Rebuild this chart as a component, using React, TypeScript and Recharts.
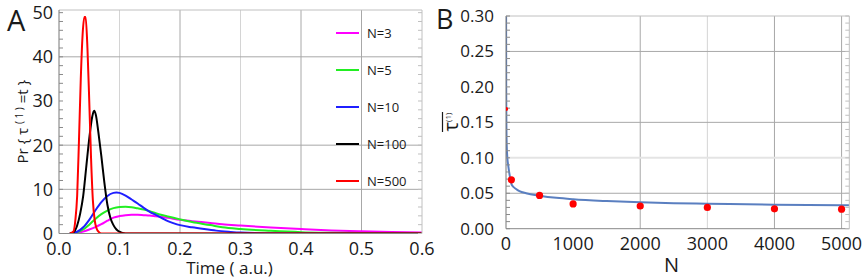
import React from "react";
import {
  ComposedChart,
  Label,
  Legend,
  Line,
  LineChart,
  ReferenceLine,
  Scatter,
  XAxis,
  YAxis,
} from "recharts";

// ---- panel A : Pr{tau(1)=t} vs time, one curve per N ----
const seriesNames = ["N=3", "N=5", "N=10", "N=100", "N=500"];

// [time, density]
const densN3: [number, number][] = [
  [0.018, 0], [0.03, 0.15], [0.04, 0.45], [0.05, 0.9], [0.06, 1.45], [0.07, 2.1],
  [0.08, 2.9], [0.09, 3.6], [0.1, 3.95], [0.11, 4.15], [0.12, 4.25], [0.13, 4.25],
  [0.14, 4.15], [0.15, 4.05], [0.16, 3.9], [0.17, 3.75], [0.18, 3.55], [0.2, 3.1],
  [0.22, 2.8], [0.25, 2.4], [0.27, 2.1], [0.3, 1.8], [0.35, 1.35], [0.4, 1.0],
  [0.45, 0.7], [0.5, 0.5], [0.55, 0.32], [0.6, 0.2],
];
const densN5: [number, number][] = [
  [0.018, 0], [0.03, 0.3], [0.04, 0.9], [0.05, 2.0], [0.06, 3.3], [0.07, 4.4],
  [0.08, 5.2], [0.09, 5.75], [0.1, 6.0], [0.11, 6.06], [0.12, 5.95], [0.13, 5.7],
  [0.14, 5.45], [0.15, 5.05], [0.16, 4.6], [0.17, 4.2], [0.18, 3.85], [0.2, 3.2],
  [0.22, 2.6], [0.25, 1.9], [0.27, 1.4], [0.3, 1.0], [0.35, 0.6], [0.4, 0.3],
  [0.45, 0.17], [0.5, 0.1], [0.6, 0.03],
];
const densN10: [number, number][] = [
  [0.018, 0], [0.03, 0.4], [0.04, 1.4], [0.05, 3.1], [0.06, 5.2], [0.07, 7.1],
  [0.08, 8.5], [0.09, 9.2], [0.095, 9.3], [0.1, 9.2], [0.11, 8.6], [0.12, 7.7],
  [0.13, 6.8], [0.14, 5.8], [0.15, 4.9], [0.16, 4.2], [0.17, 3.5], [0.18, 2.8],
  [0.19, 2.3], [0.2, 1.9], [0.22, 1.4], [0.24, 1.0], [0.26, 0.65], [0.28, 0.4],
  [0.3, 0.2], [0.35, 0.05], [0.4, 0], [0.6, 0],
];
const densN100: [number, number][] = [
  [0.018, 0], [0.025, 0.4], [0.03, 1.8], [0.035, 4.5], [0.04, 8.5], [0.045, 15],
  [0.05, 21.5], [0.055, 26.5], [0.058, 27.8], [0.061, 26.8], [0.065, 23],
  [0.07, 17.5], [0.075, 11.5], [0.08, 6.5], [0.085, 3.5], [0.09, 1.9],
  [0.095, 0.9], [0.1, 0.4], [0.105, 0.1], [0.11, 0], [0.6, 0],
];
const densN500: [number, number][] = [
  [0.018, 0], [0.024, 0.5], [0.027, 3], [0.03, 8.5], [0.033, 21], [0.036, 35],
  [0.039, 45], [0.042, 49], [0.044, 49], [0.047, 42], [0.05, 30], [0.053, 17],
  [0.056, 7.5], [0.059, 3], [0.062, 1.2], [0.066, 0.3], [0.07, 0], [0.6, 0],
];

const timeTicks = [0, 0.1, 0.2, 0.3, 0.4, 0.5, 0.6];
const probTicks = [0, 10, 20, 30, 40, 50];

// ---- panel B : mean first passage time vs N ----
const fitN = [1, 3, 5, 10, 20, 35, 50, 85, 150, 200, 300, 500, 750, 1000, 1500, 2000, 2500, 3000, 4000, 5000, 5115];
const fitTau = [0.34, 0.2, 0.16, 0.12, 0.1, 0.088, 0.078, 0.062, 0.056, 0.053, 0.05, 0.0466, 0.0435, 0.0415, 0.039, 0.0373, 0.036, 0.0353, 0.0339, 0.0331, 0.033];

const simN = [3, 80, 500, 1000, 2000, 3000, 4000, 5000];
const simTau = [0.169, 0.069, 0.047, 0.035, 0.032, 0.03, 0.028, 0.0275];

const nTicks = [0, 1000, 2000, 3000, 4000, 5000];
const tauTicks = [0, 0.05, 0.1, 0.15, 0.2, 0.25, 0.3];

const COLORS = ["#ff00ff", "#22ee22", "#1f1fff", "#000000", "#ff0000"];
const GRID_DARK = "#a8a8a8";
const GRID_LIGHT = "#d4d4d4";
const FRAME = "#c0c0c0";
const TICK = "#8a8a8a";
const FONT = "'Open Sans', sans-serif";
const INK = "#1a1a1a";

const range = (a: number, b: number, step: number) => {
  const out: number[] = [];
  for (let i = 0; a + i * step <= b + 1e-9; i++) out.push(+(a + i * step).toFixed(6));
  return out;
};

const toPts = (rows: [number, number][]) => rows.map(([t, p]) => ({ t, p }));
const curvesA = [densN3, densN5, densN10, densN100, densN500].map(toPts);
const fitData = fitN.map((n, i) => ({ n, tau: fitTau[i] }));
const simData = simN.map((n, i) => ({ n, tau: simTau[i] }));

const tickFont = (size: number) => ({ fontSize: size, fill: INK, fontFamily: FONT });
const noLabel = () => <g />;

function YLabelA({ viewBox }: any) {
  const cx = viewBox.x + 27.5;
  const cy = viewBox.y + viewBox.height / 2;
  return (
    <g transform={`translate(${cx},${cy}) rotate(-90)`}>
      <text textAnchor="middle" fontSize={15} fill={INK} fontFamily={FONT}>
        Pr {"{"} τ <tspan fontSize={10} dy={-5}>( 1 )</tspan>
        <tspan fontSize={15} dy={5}> =t {"}"}</tspan>
      </text>
    </g>
  );
}

function YLabelB({ viewBox }: any) {
  const cx = viewBox.x + 28;
  const cy = viewBox.y + 106;
  return (
    <g transform={`translate(${cx},${cy}) rotate(-90)`}>
      <text textAnchor="middle" fontSize={20} fill={INK} fontFamily={FONT}>
        τ<tspan fontSize={8} dy={-7}>(1)</tspan>
      </text>
      <line x1={-10} x2={10} y1={-15.5} y2={-15.5} stroke={INK} strokeWidth={1.2} />
    </g>
  );
}

function LegendA() {
  return (
    <div style={{ fontFamily: FONT }}>
      {seriesNames.map((name, i) => (
        <div key={name} style={{ display: "flex", alignItems: "center", height: 37 }}>
          <span style={{ display: "inline-block", width: 23, height: 2, background: COLORS[i], marginRight: 8 }} />
          <span style={{ fontSize: 13, color: INK }}>{name}</span>
        </div>
      ))}
    </div>
  );
}

const simDot = (props: any) => {
  const { cx, cy, payload } = props;
  return <circle cx={cx} cy={cy} r={payload.n < 10 ? 2 : 3.6} fill="#ff0000" />;
};

function PanelA() {
  return (
    <LineChart width={440} height={278} margin={{ top: 10, right: 18, bottom: 0, left: 0 }}>
      <XAxis
        dataKey="t"
        type="number"
        domain={[0, 0.6]}
        allowDataOverflow
        ticks={timeTicks}
        interval={0}
        tickFormatter={(v: number) => v.toFixed(1)}
        tickLine={false}
        tickSize={0}
        tickMargin={9}
        axisLine={{ stroke: "#888" }}
        tick={tickFont(18)}
        height={44.5}
      >
        <Label value="Time ( a.u.)" position="insideBottom" offset={4} dx={-11} style={{ fontSize: 17, fill: INK, fontFamily: FONT }} />
      </XAxis>
      <XAxis xAxisId="bm" type="number" domain={[0, 0.6]} allowDataOverflow ticks={range(0, 0.6, 0.02)} interval={0} mirror tick={noLabel} tickSize={4} tickLine={{ stroke: TICK }} axisLine={false} height={30} />
      <XAxis xAxisId="tm" orientation="top" type="number" domain={[0, 0.6]} allowDataOverflow ticks={range(0, 0.6, 0.02)} interval={0} mirror tick={noLabel} tickSize={4} tickLine={{ stroke: FRAME }} axisLine={{ stroke: FRAME }} height={30} />
      <YAxis
        type="number"
        domain={[0, 50.6]}
        allowDataOverflow
        ticks={probTicks}
        interval={0}
        tickLine={false}
        tickSize={0}
        tickMargin={6}
        axisLine={{ stroke: "#777" }}
        tick={tickFont(18)}
        width={59}
      >
        <Label content={<YLabelA />} />
      </YAxis>
      <YAxis yAxisId="lm" type="number" domain={[0, 50.6]} allowDataOverflow ticks={range(0, 50, 2)} interval={0} mirror tick={noLabel} tickSize={4} tickLine={{ stroke: TICK }} axisLine={false} width={30} />
      <YAxis yAxisId="rm" orientation="right" type="number" domain={[0, 50.6]} allowDataOverflow ticks={range(0, 50, 2)} interval={0} mirror tick={noLabel} tickSize={4} tickLine={{ stroke: FRAME }} axisLine={{ stroke: FRAME }} width={30} />

      {[0.1, 0.3].map((v) => (
        <ReferenceLine key={"xl" + v} x={v} stroke={GRID_LIGHT} />
      ))}
      {[0.2, 0.4, 0.5].map((v) => (
        <ReferenceLine key={"xd" + v} x={v} stroke={GRID_DARK} />
      ))}
      {[10, 20, 40].map((v) => (
        <ReferenceLine key={"y" + v} y={v} stroke={GRID_DARK} />
      ))}

      {curvesA.map((pts, i) => (
        <Line
          key={seriesNames[i]}
          name={seriesNames[i]}
          data={pts}
          dataKey="p"
          type="monotone"
          stroke={COLORS[i]}
          strokeWidth={2}
          dot={false}
          isAnimationActive={false}
        />
      ))}
      <Legend
        layout="vertical"
        align="center"
        verticalAlign="middle"
        content={<LegendA />}
        wrapperStyle={{ left: 336, top: 14, width: 90 }}
      />
    </LineChart>
  );
}

function PanelB() {
  return (
    <ComposedChart width={433} height={278} margin={{ top: 16, right: 13.7, bottom: 0, left: 0 }}>
      <XAxis
        dataKey="n"
        type="number"
        domain={[0, 5115]}
        allowDataOverflow
        ticks={nTicks}
        interval={0}
        tickLine={false}
        tickSize={0}
        tickMargin={9}
        axisLine={{ stroke: "#888" }}
        tick={tickFont(18)}
        height={49.3}
      >
        <Label value="N" position="insideBottom" offset={6} dx={-6} style={{ fontSize: 20, fill: INK, fontFamily: FONT }} />
      </XAxis>
      <XAxis xAxisId="bm" type="number" domain={[0, 5115]} allowDataOverflow ticks={range(0, 5000, 200)} interval={0} mirror tick={noLabel} tickSize={4} tickLine={{ stroke: TICK }} axisLine={false} height={30} />
      <XAxis xAxisId="tm" orientation="top" type="number" domain={[0, 5115]} allowDataOverflow ticks={range(0, 5000, 200)} interval={0} mirror tick={noLabel} tickSize={4} tickLine={{ stroke: FRAME }} axisLine={{ stroke: FRAME }} height={30} />
      <YAxis
        dataKey="tau"
        type="number"
        domain={[0, 0.3]}
        allowDataOverflow
        ticks={tauTicks}
        interval={0}
        tickFormatter={(v: number) => v.toFixed(2)}
        tickLine={false}
        tickSize={0}
        tickMargin={12}
        axisLine={{ stroke: "#777" }}
        tick={tickFont(17)}
        width={76}
      >
        <Label content={<YLabelB />} />
      </YAxis>
      <YAxis yAxisId="lm" type="number" domain={[0, 0.3]} allowDataOverflow ticks={range(0, 0.3, 0.01)} interval={0} mirror tick={noLabel} tickSize={4} tickLine={{ stroke: TICK }} axisLine={false} width={30} />
      <YAxis yAxisId="rm" orientation="right" type="number" domain={[0, 0.3]} allowDataOverflow ticks={range(0, 0.3, 0.01)} interval={0} mirror tick={noLabel} tickSize={4} tickLine={{ stroke: FRAME }} axisLine={{ stroke: FRAME }} width={30} />

      {[3000].map((v) => (
        <ReferenceLine key={"xl" + v} x={v} stroke={GRID_LIGHT} />
      ))}
      {[2000, 4000, 5000].map((v) => (
        <ReferenceLine key={"xd" + v} x={v} stroke={GRID_DARK} />
      ))}
      <ReferenceLine y={0.1} stroke="#e4e4e4" strokeWidth={2} />
      {[0.05, 0.15, 0.25].map((v) => (
        <ReferenceLine key={"y" + v} y={v} stroke={GRID_DARK} />
      ))}

      <Line
        data={fitData}
        dataKey="tau"
        type="monotone"
        stroke="#5a7fc0"
        strokeWidth={2}
        dot={false}
        isAnimationActive={false}
      />
      <Scatter data={simData} dataKey="tau" shape={simDot} isAnimationActive={false} />
    </ComposedChart>
  );
}

export default function App() {
  return (
    <div style={{ position: "absolute", left: 0, top: 0, width: 863, height: 278, background: "#fff", fontFamily: FONT }}>
      <div style={{ position: "absolute", left: 0, top: 0 }}>
        <PanelA />
      </div>
      <div style={{ position: "absolute", left: 430, top: 0 }}>
        <PanelB />
      </div>
      <div style={{ position: "absolute", left: 7, top: 0, fontSize: 29, lineHeight: "40px", color: INK, fontFamily: FONT }}>A</div>
      <div style={{ position: "absolute", left: 436, top: 0, fontSize: 27, lineHeight: "38px", color: INK, fontFamily: FONT }}>B</div>
    </div>
  );
}
